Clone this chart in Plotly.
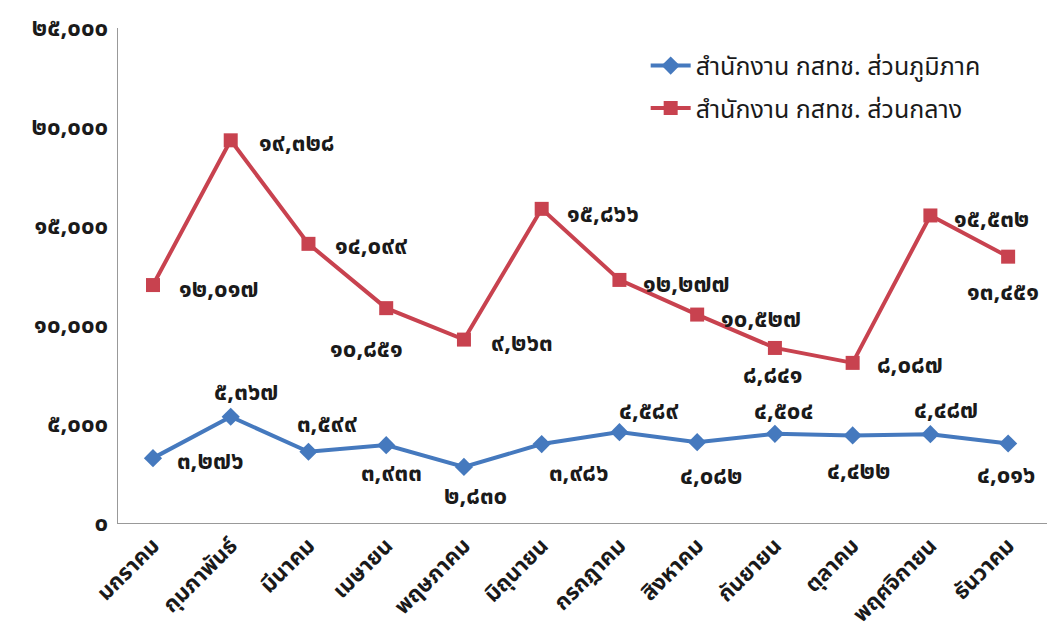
import plotly.graph_objects as go

months = ["มกราคม", "กุมภาพันธ์", "มีนาคม", "เมษายน", "พฤษภาคม", "มิถุนายน",
          "กรกฎาคม", "สิงหาคม", "กันยายน", "ตุลาคม", "พฤศจิกายน", "ธันวาคม"]
regional = [3276, 5367, 3599, 3933, 2830, 3986, 4589, 4082, 4504, 4422, 4487, 4016]
central = [12017, 19328, 14099, 10851, 9263, 15866, 12277, 10527, 8841, 8087, 15532, 13451]
series_names = ["สำนักงาน กสทช. ส่วนภูมิภาค", "สำนักงาน กสทช. ส่วนกลาง"]
y_ticks = [0, 5000, 10000, 15000, 20000, 25000]

THAI = str.maketrans("0123456789", "๐๑๒๓๔๕๖๗๘๙")


def thai_num(v):
    return f"{v:,}".translate(THAI)


FONT = "Noto Sans Thai, Noto Sans Thai Looped, Loma, Garuda, Tahoma, DejaVu Sans, sans-serif"
BLUE = "#4579BE"
RED = "#C8424F"
TXT = "#1a1a1a"

# label placement (anchor, xshift px, yshift px) per point
blue_lab = [("left", 22, -4), ("center", 15, 24), ("center", 19, 27), ("center", 5, -29),
            ("center", 12, -30), ("left", 5, -30), ("center", 30, 20), ("center", 14, -35),
            ("center", 9, 22), ("center", 6, -37), ("center", 16, 23), ("center", -2, -33)]
red_lab = [("left", 24, -5), ("left", 26, -4), ("left", 25, -3), ("center", -20, -42),
           ("left", 25, -4), ("left", 23, -6), ("left", 22, -5), ("left", 22, -5),
           ("center", -2, -28), ("left", 22, -3), ("left", 22, -5), ("center", -5, -36)]

fig = go.Figure()
fig.add_trace(go.Scatter(
    x=months, y=regional, name=series_names[0], mode="lines+markers",
    line=dict(color=BLUE, width=4),
    marker=dict(symbol="diamond", size=14, color=BLUE),
    legendgroup="a", cliponaxis=False,
))
fig.add_trace(go.Scatter(
    x=months, y=central, name=series_names[1], mode="lines+markers",
    line=dict(color=RED, width=4),
    marker=dict(symbol="square", size=14, color=RED),
    legendgroup="b", cliponaxis=False,
))

annotations = []
for vals, labs in ((regional, blue_lab), (central, red_lab)):
    for m, v, (anc, dx, dy) in zip(months, vals, labs):
        annotations.append(dict(
            x=m, y=v, xref="x", yref="y", text=thai_num(v), showarrow=False,
            xanchor=anc, yanchor="middle", xshift=dx, yshift=dy,
            font=dict(size=24, color=TXT, family=FONT, weight="bold"),
        ))

fig.update_layout(
    width=1047, height=626,
    margin=dict(l=110, r=8, t=20, b=111, autoexpand=False),
    paper_bgcolor="white", plot_bgcolor="white",
    font=dict(family=FONT, size=16, color=TXT),
    showlegend=True,
    annotations=annotations,
    legend=dict(x=0.568, y=0.97, xanchor="left", yanchor="top",
                font=dict(size=25, color=TXT, family=FONT),
                bgcolor="rgba(0,0,0,0)", traceorder="grouped", tracegroupgap=7,
                itemwidth=40),
    xaxis=dict(type="category", showgrid=False, showline=True, linecolor="#999999",
               linewidth=1, ticks="", tickangle=-45, automargin=False,
               tickfont=dict(size=22, color=TXT, family=FONT, weight="bold"),
               range=[-0.45, 11.5]),
    yaxis=dict(range=[0, 25000], showgrid=False, showline=True, linecolor="#999999",
               linewidth=1, ticks="", zeroline=False, automargin=False,
               ticklabelstandoff=4, ticklabeloverflow="allow",
               tickvals=y_ticks, ticktext=[thai_num(v) for v in y_ticks],
               tickfont=dict(size=24, color=TXT, family=FONT, weight="bold")),
)

fig.write_html("out.html")
